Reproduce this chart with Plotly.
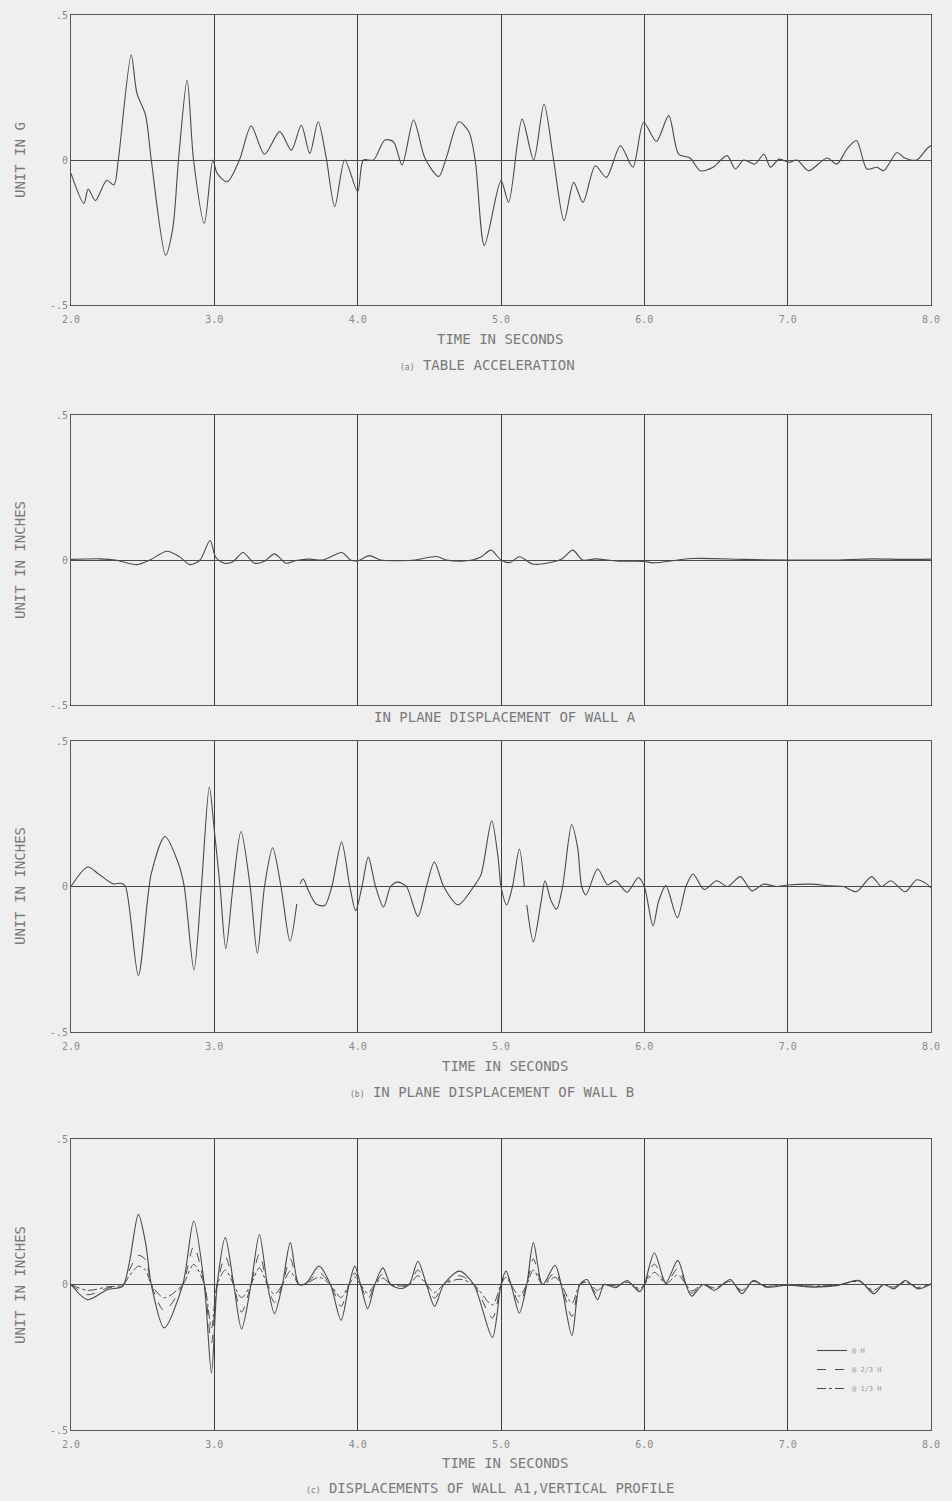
import plotly.graph_objects as go

# ---------------- (a) table acceleration, g ----------------
t_acc = [2.00, 2.09, 2.12, 2.17, 2.25, 2.30, 2.33, 2.42, 2.46, 2.52,
         2.56, 2.66, 2.71, 2.75, 2.81, 2.855, 2.93, 2.99, 3.02, 3.09,
         3.175, 3.257, 3.35, 3.456, 3.537, 3.607, 3.666, 3.724, 3.78, 3.84,
         3.91, 4.00, 4.04, 4.11, 4.19, 4.25, 4.31, 4.39, 4.47, 4.565,
         4.62, 4.705, 4.775, 4.82, 4.884, 5.00, 5.053, 5.147, 5.228, 5.30,
         5.367, 5.44, 5.507, 5.572, 5.658, 5.735, 5.833, 5.92, 5.995, 6.084,
         6.17, 6.24, 6.32, 6.39, 6.48, 6.577, 6.635, 6.693, 6.77, 6.835,
         6.88, 6.94, 7.01, 7.065, 7.146, 7.274, 7.344, 7.414, 7.48, 7.553,
         7.623, 7.67, 7.763, 7.81, 7.90, 7.97, 8.00]
acc_g = [-0.046, -0.15, -0.10, -0.14, -0.07, -0.086, 0.0, 0.362, 0.23, 0.155,
         0.0, -0.328, -0.236, 0.0, 0.276, 0.0, -0.218, 0.0, -0.046, -0.075,
         0.0, 0.117, 0.02, 0.098, 0.034, 0.12, 0.023, 0.132, 0.01, -0.161,
         0.0, -0.109, 0.0, 0.0, 0.069, 0.063, -0.017, 0.138, 0.006, -0.057,
         0.01, 0.132, 0.098, 0.0, -0.295, -0.071, -0.146, 0.141, 0.0, 0.193,
         0.0, -0.209, -0.077, -0.146, -0.02, -0.06, 0.049, -0.025, 0.13, 0.064,
         0.153, 0.02, 0.007, -0.037, -0.025, 0.015, -0.031, 0.0, -0.014, 0.02,
         -0.025, 0.003, -0.008, 0.0, -0.037, 0.007, -0.014, 0.038, 0.067, -0.031,
         -0.025, -0.037, 0.026, 0.009, 0.0, 0.038, 0.05]

# ---------------- in-plane displacement of wall A, in ----------------
t_wall_a = [2.00, 2.20, 2.31, 2.46, 2.55, 2.67, 2.76, 2.83, 2.90, 2.97,
            3.01, 3.07, 3.13, 3.20, 3.28, 3.35, 3.42, 3.50, 3.57, 3.66,
            3.76, 3.89, 3.95, 4.00, 4.08, 4.16, 4.30, 4.40, 4.55, 4.62,
            4.72, 4.80, 4.86, 4.93, 5.00, 5.06, 5.13, 5.22, 5.36, 5.43,
            5.50, 5.57, 5.66, 5.82, 6.00, 6.06, 6.33, 6.70, 7.00, 7.30,
            7.60, 7.80, 8.00]
disp_wall_a = [0.002, 0.004, 0.0, -0.016, 0.0, 0.03, 0.01, -0.016, 0.0, 0.067,
               0.009, -0.011, -0.006, 0.026, -0.011, -0.004, 0.021, -0.011, -0.002, 0.003,
               0.0, 0.026, 0.0, -0.003, 0.015, 0.0, -0.002, 0.0, 0.012, 0.0,
               -0.004, 0.0, 0.01, 0.034, 0.0, -0.009, 0.011, -0.014, -0.007, 0.005,
               0.034, 0.0, 0.004, -0.004, -0.005, -0.01, 0.005, 0.002, 0.0, 0.0,
               0.004, 0.002, 0.003]

# ---------------- (b) in-plane displacement of wall B, in (None = pen lift) ----------------
t_wall_b = [2.00, 2.116, 2.19, 2.295, 2.35, 2.38, 2.47, 2.56, 2.656, 2.75,
            2.79, 2.858, 2.91, 2.965, 3.00, 3.04, 3.08, 3.13, 3.186, 3.25,
            3.30, 3.35, 3.407, 3.465, 3.528, 3.575, 3.585, 3.598, 3.62, 3.656,
            3.71, 3.77, 3.82, 3.888, 3.945, 3.986, 4.03, 4.074, 4.125, 4.18,
            4.23, 4.28, 4.34, 4.42, 4.48, 4.535, 4.60, 4.70, 4.81, 4.86,
            4.935, 4.98, 5.00, 5.04, 5.08, 5.128, 5.163, 5.17, 5.18, 5.226,
            5.28, 5.307, 5.35, 5.388, 5.43, 5.493, 5.535, 5.563, 5.593, 5.674,
            5.744, 5.80, 5.88, 5.958, 6.00, 6.06, 6.10, 6.15, 6.23, 6.29,
            6.34, 6.417, 6.505, 6.58, 6.67, 6.75, 6.83, 6.92, 7.00, 7.16,
            7.30, 7.39, 7.48, 7.585, 7.655, 7.72, 7.82, 7.90, 7.97, 8.00]
disp_wall_b = [0.0, 0.067, 0.044, 0.009, 0.011, 0.0, -0.306, 0.044, 0.172, 0.078,
               0.0, -0.287, 0.0, 0.342, 0.193, 0.0, -0.214, 0.0, 0.189, 0.0,
               -0.229, 0.0, 0.133, 0.0, -0.188, -0.06, None, 0.009, 0.026, -0.014,
               -0.06, -0.065, 0.0, 0.153, 0.0, -0.083, 0.0, 0.101, 0.0, -0.071,
               0.0, 0.015, 0.0, -0.103, 0.0, 0.084, 0.0, -0.063, 0.0, 0.04,
               0.226, 0.098, 0.0, -0.063, 0.0, 0.129, 0.0, None, -0.063, -0.19,
               -0.052, 0.02, -0.05, -0.078, 0.0, 0.213, 0.132, 0.0, -0.029, 0.06,
               0.006, 0.02, -0.02, 0.031, 0.0, -0.135, -0.05, 0.003, -0.107, 0.0,
               0.043, -0.01, 0.02, 0.0, 0.034, -0.015, 0.008, 0.0, 0.005, 0.008,
               0.002, 0.0, -0.018, 0.034, 0.0, 0.02, -0.018, 0.023, 0.009, -0.005]

# ---------------- (c) wall A1 vertical profile, in ----------------
t_wall_a1 = [2.00, 2.116, 2.256, 2.36, 2.407, 2.47, 2.52, 2.56, 2.65, 2.78,
             2.856, 2.93, 2.98, 3.02, 3.077, 3.135, 3.19, 3.256, 3.314, 3.37,
             3.42, 3.475, 3.53, 3.59, 3.64, 3.73, 3.81, 3.884, 3.94, 3.98,
             4.02, 4.07, 4.12, 4.176, 4.23, 4.30, 4.36, 4.42, 4.48, 4.537,
             4.60, 4.71, 4.81, 4.94, 5.00, 5.035, 5.07, 5.128, 5.18, 5.226,
             5.29, 5.377, 5.42, 5.495, 5.55, 5.60, 5.674, 5.72, 5.80, 5.88,
             5.965, 6.00, 6.07, 6.15, 6.233, 6.29, 6.33, 6.41, 6.49, 6.60,
             6.68, 6.76, 6.85, 7.00, 7.18, 7.34, 7.50, 7.60, 7.67, 7.74,
             7.82, 7.91, 8.00]
disp_at_h = [0.0, -0.052, -0.017, -0.006, 0.075, 0.241, 0.144, 0.0, -0.149, 0.0,
             0.218, 0.0, -0.305, 0.0, 0.161, 0.0, -0.153, 0.0, 0.172, 0.0,
             -0.1, 0.0, 0.144, 0.0, 0.004, 0.063, 0.0, -0.123, 0.0, 0.063,
             0.0, -0.083, 0.0, 0.057, 0.0, -0.014, 0.0, 0.08, 0.0, -0.075,
             0.0, 0.046, 0.0, -0.182, 0.0, 0.046, 0.0, -0.098, 0.0, 0.144,
             0.0, 0.066, 0.0, -0.175, 0.0, 0.017, -0.052, 0.0, -0.011, 0.014,
             -0.025, 0.0, 0.109, 0.006, 0.083, 0.0, -0.04, 0.0, -0.02, 0.017,
             -0.032, 0.014, -0.009, -0.002, -0.009, -0.004, 0.014, -0.032, 0.0, -0.015,
             0.014, -0.015, 0.002]
disp_at_2_3h = [0.0, -0.035, -0.012, -0.004, 0.05, 0.10, 0.085, 0.0, -0.09, 0.0,
                0.13, 0.0, -0.2, 0.0, 0.095, 0.0, -0.095, 0.0, 0.105, 0.0,
                -0.062, 0.0, 0.088, 0.0, 0.003, 0.04, 0.0, -0.075, 0.0, 0.04,
                0.0, -0.052, 0.0, 0.036, 0.0, -0.009, 0.0, 0.05, 0.0, -0.047,
                0.0, 0.03, 0.0, -0.115, 0.0, 0.035, 0.0, -0.065, 0.0, 0.088,
                0.0, 0.042, 0.0, -0.11, 0.0, 0.012, -0.035, 0.0, -0.008, 0.011,
                -0.02, 0.0, 0.07, 0.004, 0.055, 0.0, -0.03, 0.0, -0.016, 0.014,
                -0.026, 0.012, -0.007, -0.002, -0.007, -0.003, 0.012, -0.026, 0.0, -0.012,
                0.011, -0.012, 0.002]
disp_at_1_3h = [0.0, -0.02, -0.008, -0.002, 0.03, 0.063, 0.05, 0.0, -0.046, 0.0,
                0.069, 0.0, -0.15, 0.0, 0.05, 0.0, -0.045, 0.0, 0.057, 0.0,
                -0.034, 0.0, 0.046, 0.0, 0.002, 0.025, 0.0, -0.045, 0.0, 0.025,
                0.0, -0.03, 0.0, 0.022, 0.0, -0.005, 0.0, 0.03, 0.0, -0.028,
                0.0, 0.018, 0.0, -0.07, 0.0, 0.025, 0.0, -0.04, 0.0, 0.05,
                0.0, 0.025, 0.0, -0.065, 0.0, 0.008, -0.02, 0.0, -0.005, 0.008,
                -0.014, 0.0, 0.042, 0.003, 0.033, 0.0, -0.022, 0.0, -0.012, 0.011,
                -0.02, 0.01, -0.005, -0.001, -0.005, -0.002, 0.01, -0.02, 0.0, -0.009,
                0.008, -0.009, 0.001]

x_ticks = [2, 3, 4, 5, 6, 7, 8]
x_tick_text = ["2.0", "3.0", "4.0", "5.0", "6.0", "7.0", "8.0"]
y_ticks = [-0.5, 0, 0.5]
y_tick_text = ["-.5", "0", ".5"]

W, H = 952, 1501
PAPER = "#efefef"
INK = "#4a4a4a"
FAINT = "#8a8a8a"
MONO = "DejaVu Sans Mono"

# plot frames in pixel coordinates (top, bottom)
x_left, x_right = 71, 931
frames = [(15, 305), (415, 705), (741, 1032), (1139, 1430)]


def py(p):
    return 1 - p / H


fig = go.Figure()

line_style = dict(color=INK, width=1.1, shape="spline", smoothing=0.8)

fig.add_trace(go.Scatter(x=t_acc, y=acc_g, mode="lines", line=line_style,
                         xaxis="x", yaxis="y", showlegend=False))
fig.add_trace(go.Scatter(x=t_wall_a, y=disp_wall_a, mode="lines", line=line_style,
                         xaxis="x2", yaxis="y2", showlegend=False))
fig.add_trace(go.Scatter(x=t_wall_b, y=disp_wall_b, mode="lines", line=line_style,
                         connectgaps=False, xaxis="x3", yaxis="y3", showlegend=False))
fig.add_trace(go.Scatter(x=t_wall_a1, y=disp_at_h, mode="lines", name="@ H",
                         line=dict(color=INK, width=1.1, shape="spline", smoothing=0.8),
                         xaxis="x4", yaxis="y4"))
fig.add_trace(go.Scatter(x=t_wall_a1, y=disp_at_2_3h, mode="lines", name="@ 2/3 H",
                         line=dict(color=INK, width=1.0, dash="dash", shape="spline", smoothing=0.8),
                         xaxis="x4", yaxis="y4"))
fig.add_trace(go.Scatter(x=t_wall_a1, y=disp_at_1_3h, mode="lines", name="@ 1/3 H",
                         line=dict(color=INK, width=1.0, dash="dashdot", shape="spline", smoothing=0.8),
                         xaxis="x4", yaxis="y4"))

layout = dict(
    width=W, height=H,
    margin=dict(l=0, r=0, t=0, b=0, autoexpand=False),
    paper_bgcolor=PAPER, plot_bgcolor=PAPER,
    font=dict(family=MONO, color=FAINT, size=10),
    legend=dict(x=812 / W, y=py(1336), xanchor="left", yanchor="top",
                bgcolor="rgba(0,0,0,0)", font=dict(size=7, color="#9a9a9a"),
                itemwidth=30, tracegroupgap=0),
)

for i, (top, bot) in enumerate(frames, start=1):
    sx = "" if i == 1 else str(i)
    layout["xaxis" + sx] = dict(
        domain=[x_left / W, x_right / W], range=[2, 8], anchor="y" + sx,
        tickvals=x_ticks, ticktext=x_tick_text, showticklabels=(i != 2),
        tickfont=dict(family=MONO, size=10, color=FAINT), ticks="",
        ticklabelstandoff=5,
        showgrid=True, gridcolor="#3c3c3c", gridwidth=1, automargin=False,
        showline=True, linecolor="#555", linewidth=1, mirror=True, zeroline=False,
    )
    layout["yaxis" + sx] = dict(
        domain=[py(bot), py(top)], range=[-0.5, 0.5], anchor="x" + sx,
        tickvals=y_ticks, ticktext=y_tick_text, ticks="", automargin=False,
        tickfont=dict(family=MONO, size=10, color=FAINT),
        showgrid=False, zeroline=True, zerolinecolor="#4a4a4a", zerolinewidth=1,
        showline=True, linecolor="#555", linewidth=1, mirror=True,
    )

fig.update_layout(**layout)


def note(text, xpx, ypx, angle=0, size=14):
    fig.add_annotation(text=text, x=xpx / W, y=py(ypx), xref="paper", yref="paper",
                       xanchor="center", yanchor="middle",
                       showarrow=False, textangle=angle,
                       font=dict(family=MONO, size=size, color="#7a7a7a"))


small = "<span style='font-size:8px'>{}</span>"

note("UNIT IN G", 20, 160, angle=-90)
note("TIME IN SECONDS", 500, 339)
note(small.format("(a)") + " TABLE ACCELERATION", 488, 365)

note("UNIT IN INCHES", 20, 560, angle=-90)
note("IN PLANE DISPLACEMENT OF WALL A", 505, 717)

note("UNIT IN INCHES", 20, 886, angle=-90)
note("TIME IN SECONDS", 505, 1066)
note(small.format("(b)") + " IN PLANE DISPLACEMENT OF WALL B", 492, 1092)

note("UNIT IN INCHES", 20, 1285, angle=-90)
note("TIME IN SECONDS", 505, 1463)
note(small.format("(c)") + " DISPLACEMENTS OF WALL A1,VERTICAL PROFILE", 490, 1488)

fig.write_html("out.html")
